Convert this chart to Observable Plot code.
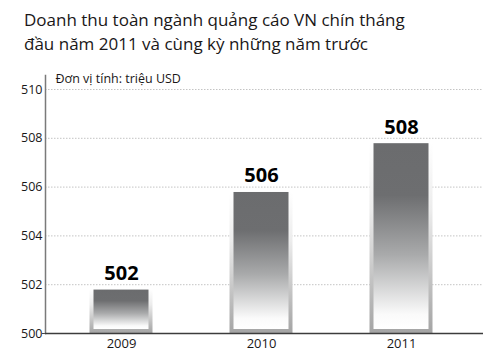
<!DOCTYPE html>
<html>
<head>
<meta charset="utf-8">
<script src="https://cdn.jsdelivr.net/npm/d3@7"></script>
<script src="https://cdn.jsdelivr.net/npm/@observablehq/plot@0.6"></script>
<style>
  html, body { margin: 0; padding: 0; background: #fff; overflow: hidden; }
  #wrap { position: relative; width: 500px; height: 358px; }
  #title { position: absolute; left: 24px; top: 8px; font-family: "Open Sans", sans-serif; font-size: 17px; line-height: 24px; color: #1a1718; white-space: nowrap; z-index: 2; }
  #chart { position: absolute; left: 0; top: 0; }
</style>
</head>
<body>
<div id="wrap">
  <div id="title">Doanh thu toàn ngành quảng cáo VN chín tháng<br>đầu năm 2011 và cùng kỳ những năm trước</div>
  <div id="chart"></div>
</div>
<script>
const years = ["2009", "2010", "2011"];
const barTops = [501.8, 505.8, 507.8];
const valueLabels = ["502", "506", "508"];
const yTicks = [500, 502, 504, 506, 508, 510];
const unitLabel = "Đơn vị tính: triệu USD";

const data = years.map((y, i) => ({year: y, top: barTops[i], label: valueLabels[i]}));

const plot = Plot.plot({
  width: 500,
  height: 358,
  marginLeft: 45,
  marginRight: 17,
  marginTop: 75,
  marginBottom: 25,
  style: {fontFamily: "'Open Sans', sans-serif", color: "#1a1718", background: "#fff"},
  x: {domain: years, range: [51, 471], paddingInner: 0.55, paddingOuter: 0.275, round: false},
  y: {domain: [500, 510], range: [333, 89]},
  marks: [
    Plot.gridY(yTicks.filter(d => d > 500), {stroke: "#c4c4c4", strokeOpacity: 1, strokeDasharray: "1.5,1.5", strokeWidth: 1}),
    Plot.barY(data, {x: "year", y1: 500, y2: "top", fill: "url(#gOuter)"}),
    Plot.barY(data, {x: "year", y1: 500, y2: "top", fill: "url(#gInner)", insetLeft: 4, insetRight: 4, insetBottom: 4, insetTop: 0.5}),
    Plot.text(data, {x: "year", y: "top", text: "label", dy: -16, fontSize: 20, fontWeight: "bold", fill: "#000", lineAnchor: "middle"}),
    Plot.axisY({ticks: yTicks, tickSize: 0, tickPadding: 3, fontSize: 12.5, fill: "#1a1718", label: null, tickFormat: d => String(d)}),
    Plot.axisY({ticks: [500], tickSize: 3, text: null, stroke: "#444", label: null}),
    Plot.axisX({tickSize: 0, tickPadding: 5, fontSize: 13, fill: "#1a1718", label: null}),
    Plot.frame({anchor: "left", stroke: "#7a7a7a", strokeWidth: 1.5}),
    Plot.ruleY([500], {stroke: "#3c3c3c", strokeWidth: 1.5}),
    Plot.text([unitLabel], {frameAnchor: "top-left", dx: 10, dy: 3, lineAnchor: "middle", textAnchor: "start", fontSize: 12.5, fill: "#1a1718"})
  ]
});

const svg = d3.select(plot);
const defs = svg.insert("defs", ":first-child");
const go = defs.append("linearGradient").attr("id", "gOuter").attr("x1", 0).attr("y1", 0).attr("x2", 0).attr("y2", 1);
go.append("stop").attr("offset", 0).attr("stop-color", "#ffffff");
go.append("stop").attr("offset", 0.35).attr("stop-color", "#ececec");
go.append("stop").attr("offset", 1).attr("stop-color", "#a4a4a4");
const gi = defs.append("linearGradient").attr("id", "gInner").attr("x1", 0).attr("y1", 0).attr("x2", 0).attr("y2", 1);
gi.append("stop").attr("offset", 0).attr("stop-color", "#6b6c6e");
gi.append("stop").attr("offset", 0.28).attr("stop-color", "#6d6e70");
gi.append("stop").attr("offset", 0.6).attr("stop-color", "#a9aaab");
gi.append("stop").attr("offset", 0.92).attr("stop-color", "#fafafa");
gi.append("stop").attr("offset", 1).attr("stop-color", "#ffffff");

document.getElementById("chart").appendChild(plot);
</script>
</body>
</html>
